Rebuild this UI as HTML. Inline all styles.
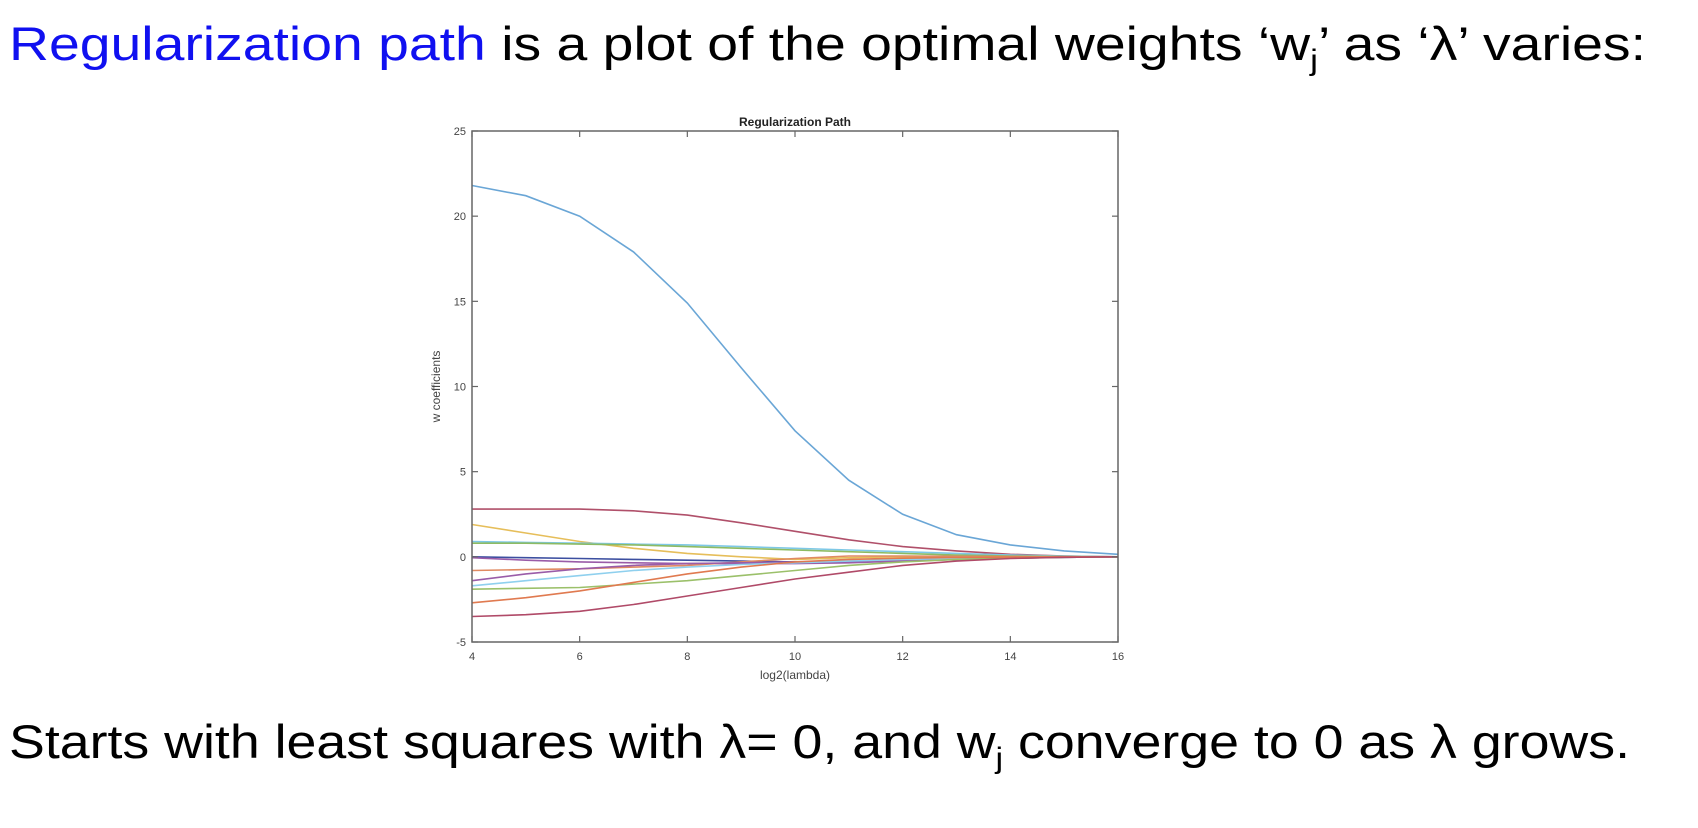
<!DOCTYPE html>
<html><head><meta charset="utf-8">
<style>
html,body{margin:0;padding:0;background:#fff;}
svg{display:block;}
</style></head>
<body>
<svg id="page" width="1698" height="828" viewBox="0 0 1698 828" xmlns="http://www.w3.org/2000/svg">
  <text x="9" y="60" font-family="'Liberation Sans', sans-serif" font-size="47" textLength="1637" lengthAdjust="spacingAndGlyphs"><tspan fill="#1010f0">Regularization path</tspan> is a plot of the optimal weights ‘w<tspan font-size="30" dy="10">j</tspan><tspan dy="-10">’ as ‘λ’ varies:</tspan></text>
  <text x="9" y="758" font-family="'Liberation Sans', sans-serif" font-size="47" textLength="1621" lengthAdjust="spacingAndGlyphs">Starts with least squares with λ= 0, and w<tspan font-size="30" dy="10">j</tspan><tspan dy="-10"> converge to 0 as λ grows.</tspan></text>
  <g id="chart"></g>
</svg>
<script>
const xVals = [4,5,6,7,8,9,10,11,12,13,14,15,16];
const xTicks = [4,6,8,10,12,14,16];
const yTicks = [-5,0,5,10,15,20,25];
const seriesColors = ["#6aa6d6","#b0506a","#e6be5a","#7ec8e6","#8dbb63","#3c4fa0","#9a5ca8","#e08a62","#9a5ca8","#8fd0ee","#9bc06a","#e07a50","#b04a68"];
const s1 = [21.8,21.2,20.0,17.9,14.9,11.1,7.4,4.5,2.5,1.3,0.7,0.35,0.15];
const s2 = [2.8,2.8,2.8,2.7,2.45,2.0,1.5,1.0,0.6,0.35,0.15,0.05,0.0];
const s3 = [1.9,1.4,0.9,0.5,0.2,0.0,-0.15,-0.05,0,0,0,0,0];
const s4 = [0.9,0.85,0.8,0.75,0.7,0.6,0.5,0.4,0.3,0.2,0.1,0.05,0];
const s5 = [0.8,0.8,0.75,0.7,0.6,0.5,0.4,0.3,0.2,0.1,0.05,0.02,0];
const s6 = [0,-0.05,-0.1,-0.15,-0.2,-0.25,-0.3,-0.3,-0.25,-0.15,-0.08,-0.03,0];
const s7 = [-0.05,-0.2,-0.3,-0.35,-0.4,-0.4,-0.4,-0.35,-0.25,-0.15,-0.08,-0.03,0];
const s8 = [-0.8,-0.75,-0.7,-0.6,-0.5,-0.3,-0.1,0.05,0.05,0.03,0.02,0.01,0];
const s9 = [-1.4,-1.0,-0.7,-0.5,-0.4,-0.35,-0.3,-0.25,-0.2,-0.12,-0.06,-0.02,0];
const s10 = [-1.7,-1.4,-1.1,-0.8,-0.6,-0.45,-0.35,-0.25,-0.15,-0.1,-0.05,-0.02,0];
const s11 = [-1.9,-1.85,-1.8,-1.6,-1.4,-1.1,-0.8,-0.5,-0.3,-0.15,-0.07,-0.03,0];
const s12 = [-2.7,-2.4,-2.0,-1.5,-1.0,-0.6,-0.3,-0.15,-0.08,-0.04,-0.02,0,0];
const s13 = [-3.5,-3.4,-3.2,-2.8,-2.3,-1.8,-1.3,-0.9,-0.5,-0.25,-0.1,-0.03,0];
const allSeries = [s1,s2,s3,s4,s5,s6,s7,s8,s9,s10,s11,s12,s13];

const NS="http://www.w3.org/2000/svg";
const L=472,R=1118,T=131,B=642;
const xMin=4,xMax=16,yMin=-5,yMax=25;
function sx(v){return L+(v-xMin)/(xMax-xMin)*(R-L);}
function sy(v){return B-(v-yMin)/(yMax-yMin)*(B-T);}
const g=document.getElementById('chart');
function mk(tag,attrs){const e=document.createElementNS(NS,tag);for(const k in attrs)e.setAttribute(k,attrs[k]);g.appendChild(e);return e;}

allSeries.forEach((arr,i)=>{
  const d=arr.map((v,j)=>(j?'L':'M')+sx(xVals[j]).toFixed(1)+','+sy(v).toFixed(1)).join(' ');
  const p=mk('path',{d:d,fill:'none',stroke:seriesColors[i],'stroke-width':1.6});
  
  
});

const box=mk('rect',{x:L,y:T,width:R-L,height:B-T,fill:'none',stroke:'#666','stroke-width':1.5});



xTicks.forEach(v=>{
  const x=sx(v);
  mk('line',{x1:x,y1:B,x2:x,y2:B-6,stroke:'#666','stroke-width':1.2});
  mk('line',{x1:x,y1:T,x2:x,y2:T+6,stroke:'#666','stroke-width':1.2});
  const t=mk('text',{x:x,y:B+18,'text-anchor':'middle','font-family':"'Liberation Sans', sans-serif",'font-size':11,fill:'#444'});
  t.textContent=v;
  
  
});
yTicks.forEach(v=>{
  const y=sy(v);
  mk('line',{x1:L,y1:y,x2:L+6,y2:y,stroke:'#666','stroke-width':1.2});
  mk('line',{x1:R,y1:y,x2:R-6,y2:y,stroke:'#666','stroke-width':1.2});
  const t=mk('text',{x:L-6,y:y+4,'text-anchor':'end','font-family':"'Liberation Sans', sans-serif",'font-size':11,fill:'#444'});
  t.textContent=v;
  
  
});
const title=mk('text',{x:(L+R)/2,y:T-5,'text-anchor':'middle','font-family':"'Liberation Sans', sans-serif",'font-size':12,'font-weight':'bold',fill:'#222'});
title.textContent='Regularization Path';


const xl=mk('text',{x:(L+R)/2,y:B+37,'text-anchor':'middle','font-family':"'Liberation Sans', sans-serif",'font-size':12,fill:'#444'});
xl.textContent='log2(lambda)';


const yl=mk('text',{x:0,y:0,'text-anchor':'middle','font-family':"'Liberation Sans', sans-serif",'font-size':12,fill:'#444',transform:'translate(440,'+((T+B)/2)+') rotate(-90)'});
yl.textContent='w coefficients';


</script>
</body></html>
